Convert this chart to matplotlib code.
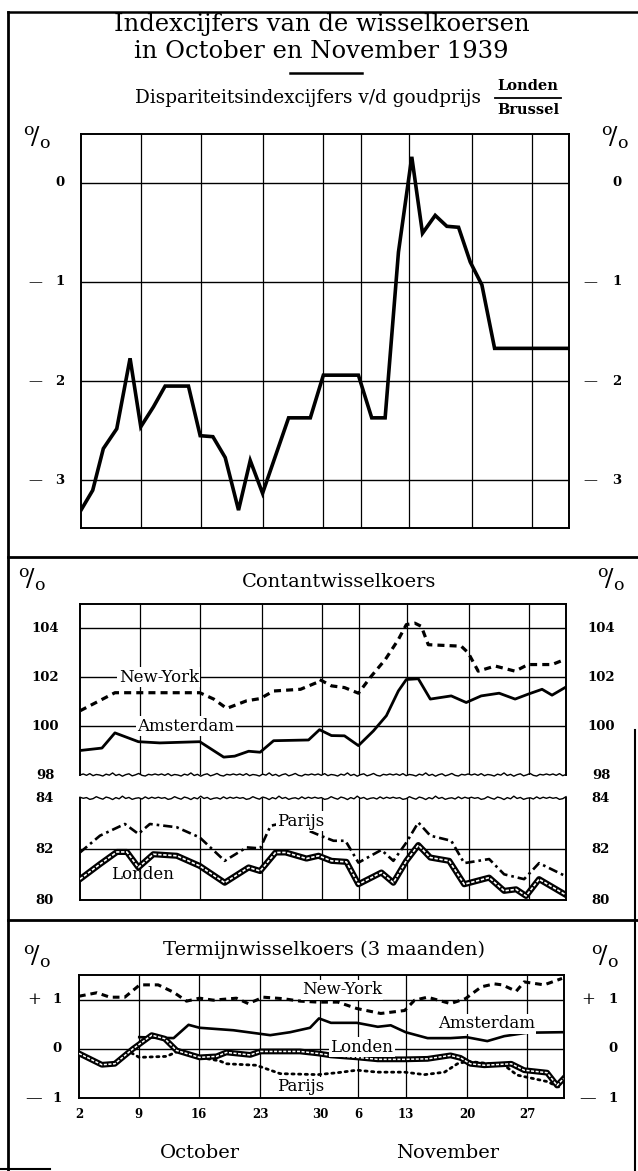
import numpy as np
import matplotlib
matplotlib.use("Agg")
import matplotlib.pyplot as plt

W, H = 638, 1171
plt.rcParams['font.family'] = ['DejaVu Serif']
plt.rcParams['mathtext.fontset'] = 'dejavuserif'

# ---------------- data (x = trading-day position from 2 October) ----------------
date_pos = [0, 6, 12, 18.2, 24.2, 28, 32.8, 39, 45]
date_labels = ['2', '9', '16', '23', '30', '6', '13', '20', '27']
x_end = 48.7

# Panel 1: disparity index of the gold price London/Brussels (%)
disp_x = [0, 1.17, 2.23, 3.57, 4.9, 5.97, 7.23, 8.4, 10.73, 11.9, 13.17, 14.4, 15.73,
          16.9, 18.13, 20.73, 22.9, 24.2, 27.7, 29.03, 30.37, 31.7, 33.03, 34.1, 35.37,
          36.53, 37.7, 38.87, 40.03, 41.3, 48.7]
disp_y = [-3.30, -3.10, -2.68, -2.48, -1.77, -2.46, -2.26, -2.05, -2.05, -2.55, -2.56,
          -2.77, -3.30, -2.80, -3.13, -2.37, -2.37, -1.94, -1.94, -2.37, -2.37, -0.70,
          0.26, -0.51, -0.33, -0.44, -0.45, -0.80, -1.03, -1.67, -1.67]

# Panel 2: spot rates (index)
ny_cash_x = [0, 3.5, 12.0, 13.4, 14.7, 16.7, 18.05, 19.4, 22.1, 23.7, 24.0, 25.2, 26.5,
             27.9, 29.2, 30.6, 31.9, 32.7, 33.55, 34.2, 34.9, 38.2, 38.9, 39.9, 41.6,
             43.6, 44.9, 47.3, 48.6]
ny_cash_y = [100.62, 101.36, 101.36, 101.1, 100.72, 101.03, 101.12, 101.43, 101.5, 101.77,
             101.9, 101.64, 101.57, 101.34, 102.04, 102.72, 103.53, 104.14, 104.2, 104.07,
             103.32, 103.26, 102.99, 102.24, 102.45, 102.24, 102.51, 102.51, 102.72]

ams_cash_x = [0, 2.2, 3.5, 5.85, 8.0, 12.0, 14.4, 15.5, 16.9, 18.05, 19.4, 22.9, 24.0,
              25.2, 26.5, 27.9, 29.4, 30.7, 31.9, 32.7, 33.9, 35.1, 37.2, 38.7, 40.2,
              42.0, 43.6, 44.9, 46.3, 47.3, 48.6]
ams_cash_y = [99.0, 99.1, 99.72, 99.36, 99.31, 99.36, 98.73, 98.77, 98.97, 98.93, 99.4,
              99.43, 99.85, 99.61, 99.6, 99.2, 99.8, 100.42, 101.43, 101.9, 101.93, 101.1,
              101.23, 100.96, 101.23, 101.34, 101.1, 101.3, 101.5, 101.26, 101.57]

par_cash_x = [0, 2.0, 4.5, 5.85, 7.0, 9.7, 12.0, 14.5, 16.7, 18.05, 19.1, 20.4, 21.4,
              22.7, 24.1, 25.4, 26.6, 27.9, 30.2, 31.4, 32.7, 33.9, 35.1, 37.2, 38.5,
              41.0, 42.5, 44.5, 46.0, 48.6]
par_cash_y = [81.87, 82.53, 82.99, 82.6, 82.99, 82.86, 82.46, 81.54, 82.07, 82.03, 82.92,
              83.03, 82.86, 82.76, 82.53, 82.33, 82.33, 81.47, 81.97, 81.54, 82.26, 83.05,
              82.53, 82.33, 81.45, 81.61, 81.01, 80.82, 81.45, 80.95]

lon_cash_x = [0, 2.0, 3.7, 4.7, 5.85, 7.35, 9.7, 12.0, 14.5, 16.9, 18.05, 19.6, 20.6,
              22.7, 23.9, 25.2, 26.7, 27.9, 30.2, 31.4, 32.7, 33.9, 35.1, 37.0, 38.5,
              41.0, 42.5, 43.7, 44.7, 46.0, 48.6]
lon_cash_y = [80.82, 81.41, 81.89, 81.89, 81.28, 81.8, 81.74, 81.34, 80.68, 81.28, 81.14,
              81.87, 81.87, 81.63, 81.74, 81.54, 81.5, 80.62, 81.08, 80.68, 81.54, 82.16,
              81.67, 81.54, 80.62, 80.88, 80.36, 80.42, 80.16, 80.82, 80.22]

# Panel 3: 3-month forward rates (%)
ny_fwd_x = [0, 1.8, 3.1, 4.6, 6.1, 7.95, 9.5, 10.8, 12.1, 13.5, 15.8, 17.0, 18.5, 20.5,
            22.2, 24.0, 26.0, 27.9, 30.3, 32.7, 33.7, 35.0, 37.3, 38.8, 40.4, 41.7, 42.5,
            43.9, 44.7, 46.7, 48.5]
ny_fwd_y = [1.07, 1.14, 1.05, 1.05, 1.30, 1.30, 1.15, 0.97, 1.03, 0.99, 1.03, 0.92, 1.05,
            1.02, 0.97, 0.95, 0.95, 0.82, 0.72, 0.78, 0.99, 1.05, 0.92, 1.02, 1.26, 1.32,
            1.30, 1.17, 1.36, 1.30, 1.43]

ams_fwd_x = [6.05, 9.5, 11.0, 12.1, 15.5, 19.2, 21.2, 23.2, 24.1, 25.3, 27.9, 30.0, 31.3,
             32.8, 35.0, 37.3, 38.9, 41.0, 42.7, 45.0, 48.5]
ams_fwd_y = [0.24, 0.22, 0.49, 0.43, 0.38, 0.28, 0.34, 0.43, 0.62, 0.53, 0.53, 0.45, 0.48,
             0.34, 0.22, 0.22, 0.24, 0.16, 0.26, 0.33, 0.34]

lon_fwd_x = [0, 2.3, 3.6, 5.4, 7.3, 8.6, 9.8, 12.1, 13.8, 14.8, 17.2, 18.2, 22.2, 24.0,
             25.3, 27.9, 30.0, 32.7, 35.0, 37.3, 38.3, 39.3, 40.7, 43.4, 44.7, 47.0, 48.0,
             48.65]
lon_fwd_y = [-0.09, -0.32, -0.30, 0.0, 0.28, 0.21, -0.03, -0.17, -0.15, -0.07, -0.12, -0.05,
             -0.05, -0.09, -0.13, -0.17, -0.21, -0.21, -0.20, -0.13, -0.18, -0.30, -0.33,
             -0.30, -0.43, -0.48, -0.74, -0.60]

par_fwd_x = [0, 2.3, 3.6, 5.0, 6.05, 8.8, 10.1, 12.1, 14.1, 14.8, 17.8, 20.2, 24.0, 26.0,
             27.9, 30.0, 32.7, 34.7, 36.7, 38.0, 39.0, 42.7, 44.0, 47.0, 48.5]
par_fwd_y = [-0.09, -0.32, -0.30, -0.05, -0.17, -0.15, -0.03, -0.17, -0.24, -0.30, -0.33,
             -0.50, -0.52, -0.48, -0.43, -0.47, -0.47, -0.52, -0.47, -0.30, -0.25, -0.33,
             -0.53, -0.66, -0.80]

# ---------------- figure ----------------
fig = plt.figure(figsize=(W / 100, H / 100), dpi=100)
fig.patch.set_facecolor('white')


def rect(l, t, r, b):
    return [l / W, 1 - b / H, (r - l) / W, (b - t) / H]


def fx(x):
    return x / W


def fy(y):
    return 1 - y / H


def ftext(x, y, s, **kw):
    kw.setdefault('ha', 'center')
    kw.setdefault('va', 'center')
    fig.text(fx(x), fy(y), s, **kw)


def fline(x0, y0, x1, y1, lw=1.6):
    fig.add_artist(plt.Line2D([fx(x0), fx(x1)], [fy(y0), fy(y1)], color='black', lw=lw,
                              transform=fig.transFigure))


def style_axes(ax, hlines):
    ax.set_xlim(0, x_end)
    ax.set_xticks(date_pos)
    ax.tick_params(length=0, labelbottom=False, labelleft=False)
    for x in date_pos[1:]:
        ax.axvline(x, color='black', lw=0.9, zorder=1)
    for h in hlines:
        ax.axhline(h, color='black', lw=1.0, zorder=1)
    for s in ax.spines.values():
        s.set_linewidth(1.4)


# frame of the whole sheet
fline(8, 12, 638, 12, lw=1.8)
fline(8, 12, 8, 1170, lw=2.0)
fline(8, 557, 638, 557, lw=2.0)
fline(8, 920, 638, 920, lw=2.0)
fline(0, 1169, 50, 1169, lw=1.5)
fline(635, 730, 635, 1171, lw=1.5)

numfont = dict(fontsize=9.5, fontweight='bold', family='DejaVu Serif')
pct = r'$^{\mathrm{o}}\!/_{\mathrm{o}}$'

# ---------- Panel 1 ----------
ftext(322, 25, 'Indexcijfers van de wisselkoersen', fontsize=17.5)
ftext(321, 51, 'in October en November 1939', fontsize=17.5)
fline(290, 73, 362, 73, lw=1.8)
ftext(308, 98, 'Dispariteitsindexcijfers v/d goudprijs', fontsize=13.3)
ftext(528, 86, 'Londen', fontsize=10.5, fontweight='bold')
fline(495, 98, 561, 98, lw=1.3)
ftext(528, 110, 'Brussel', fontsize=10.5, fontweight='bold')

ax1 = fig.add_axes(rect(81, 134, 568.7, 528))
ax1.set_ylim(-3.48, 0.49)
style_axes(ax1, [0, -1, -2, -3])
ax1.plot(disp_x, disp_y, color='black', lw=2.6, solid_joinstyle='miter', zorder=3)
ytr = ax1.get_yaxis_transform()
L1, R1 = 81, 568.7
for v in [0, -1, -2, -3]:
    s = '0' if v == 0 else str(-v)
    ax1.text((60 - L1) / (R1 - L1), v, s, transform=ytr, ha='center', va='center', **numfont)
    ax1.text((617 - L1) / (R1 - L1), v, s, transform=ytr, ha='center', va='center', **numfont)
    if v != 0:
        ax1.text((35 - L1) / (R1 - L1), v, '—', transform=ytr, ha='center', va='center', fontsize=10)
        ax1.text((590 - L1) / (R1 - L1), v, '—', transform=ytr, ha='center', va='center', fontsize=10)
ftext(37, 138, pct, fontsize=18)
ftext(615, 138, pct, fontsize=18)

# ---------- Panel 2 ----------
ftext(339, 582, 'Contantwisselkoers', fontsize=14)
ftext(32, 580, pct, fontsize=18)
ftext(611, 580, pct, fontsize=18)

L2, R2 = 80, 566
ax2u = fig.add_axes(rect(L2, 604.3, R2, 775))
ax2u.set_ylim(98, 104.97)
style_axes(ax2u, [104, 102, 100])
ax2u.spines['bottom'].set_visible(False)
ax2l = fig.add_axes(rect(L2, 798.3, R2, 900))
ax2l.set_ylim(80, 84)
style_axes(ax2l, [82])
ax2l.spines['top'].set_visible(False)

# wavy break lines (decoration)
wave = np.array([0, .6, -.2, .8, -.4, .3, 0, -.6, .5, -.1, 1.2, -.3, .4, -.7, .2, .7,
                 -.5, .1, .9, -.2, -.6, .4, 0, .6])
n = 150
wx = np.linspace(0, x_end, n)
wy = np.resize(wave, n)
ax2u.plot(wx, 98 + 0.07 * wy, color='black', lw=1.0, clip_on=False, zorder=4)
ax2l.plot(wx, 84 + 0.07 * np.resize(wave[::-1], n), color='black', lw=1.0, clip_on=False,
          zorder=4)

ax2u.plot(ny_cash_x, ny_cash_y, color='black', lw=2.3, linestyle=(0, (2.2, 1.6)), zorder=3)
ax2u.plot(ams_cash_x, ams_cash_y, color='black', lw=2.0, zorder=3)
ax2l.plot(par_cash_x, par_cash_y, color='black', lw=1.9, linestyle=(0, (3.5, 1.5, 1, 1.5)),
          zorder=3)
ax2l.plot(lon_cash_x, lon_cash_y, color='black', lw=4.4, zorder=3)
ax2l.plot(lon_cash_x, lon_cash_y, color='white', lw=1.2, linestyle=(0, (2, 1)), zorder=4)

lbl = dict(fontsize=12, ha='center', va='center',
           bbox=dict(facecolor='white', edgecolor='none', pad=1.0), zorder=5)
ax2u.text(7.9, 102, 'New-York', **lbl)
ax2u.text(10.6, 100, 'Amsterdam', **lbl)
ax2l.text(22.1, 83.1, 'Parijs', **lbl)
ax2l.text(6.3, 81.0, 'Londen', fontsize=12, ha='center', va='center', zorder=5)

for ax, vals in [(ax2u, [104, 102, 100, 98]), (ax2l, [84, 82, 80])]:
    tr = ax.get_yaxis_transform()
    for v in vals:
        ax.text((45 - L2) / (R2 - L2), v, str(v), transform=tr, ha='center', va='center',
                **numfont)
        ax.text((601 - L2) / (R2 - L2), v, str(v), transform=tr, ha='center', va='center',
                **numfont)

# ---------- Panel 3 ----------
ftext(324, 950, 'Termijnwisselkoers (3 maanden)', fontsize=14)
ftext(37, 957, pct, fontsize=18)
ftext(605, 957, pct, fontsize=18)

L3, R3 = 79, 564
ax3 = fig.add_axes(rect(L3, 975, R3, 1098.3))
ax3.set_ylim(-1, 1.5)
style_axes(ax3, [1, 0])

ax3.plot(ny_fwd_x, ny_fwd_y, color='black', lw=2.2, linestyle=(0, (2.2, 1.6)), zorder=3)
ax3.plot(ams_fwd_x, ams_fwd_y, color='black', lw=1.9, zorder=3)
ax3.plot(par_fwd_x, par_fwd_y, color='black', lw=2.0, linestyle=(0, (0.8, 1.6)),
         dash_capstyle='round', zorder=3)
ax3.plot(lon_fwd_x, lon_fwd_y, color='black', lw=4.2, zorder=3)
ax3.plot(lon_fwd_x, lon_fwd_y, color='white', lw=1.1, linestyle=(0, (2, 1)), zorder=4)

ax3.text(26.4, 1.2, 'New-York', **lbl)
ax3.text(40.9, 0.51, 'Amsterdam', **lbl)
ax3.text(28.4, 0.04, 'Londen', **lbl)
ax3.text(22.3, -0.77, 'Parijs', **lbl)

tr3 = ax3.get_yaxis_transform()
for v, s in [(1, '1'), (0, '0'), (-1, '1')]:
    ax3.text((57 - L3) / (R3 - L3), v, s, transform=tr3, ha='center', va='center', **numfont)
    ax3.text((613 - L3) / (R3 - L3), v, s, transform=tr3, ha='center', va='center', **numfont)
for v, s in [(1, '+'), (-1, '—')]:
    ax3.text((34 - L3) / (R3 - L3), v, s, transform=tr3, ha='center', va='center', fontsize=12)
    ax3.text((588 - L3) / (R3 - L3), v, s, transform=tr3, ha='center', va='center', fontsize=12)

xtr = ax3.get_xaxis_transform()
for p, s in zip(date_pos, date_labels):
    ax3.text(p, (1098.3 - 1115) / (1098.3 - 975), s, transform=xtr, ha='center', va='center',
             fontsize=8.5, fontweight='bold')

ftext(200, 1153, 'October', fontsize=14)
ftext(448, 1153, 'November', fontsize=14)

fig.savefig('out.png', dpi=100, facecolor='white')
